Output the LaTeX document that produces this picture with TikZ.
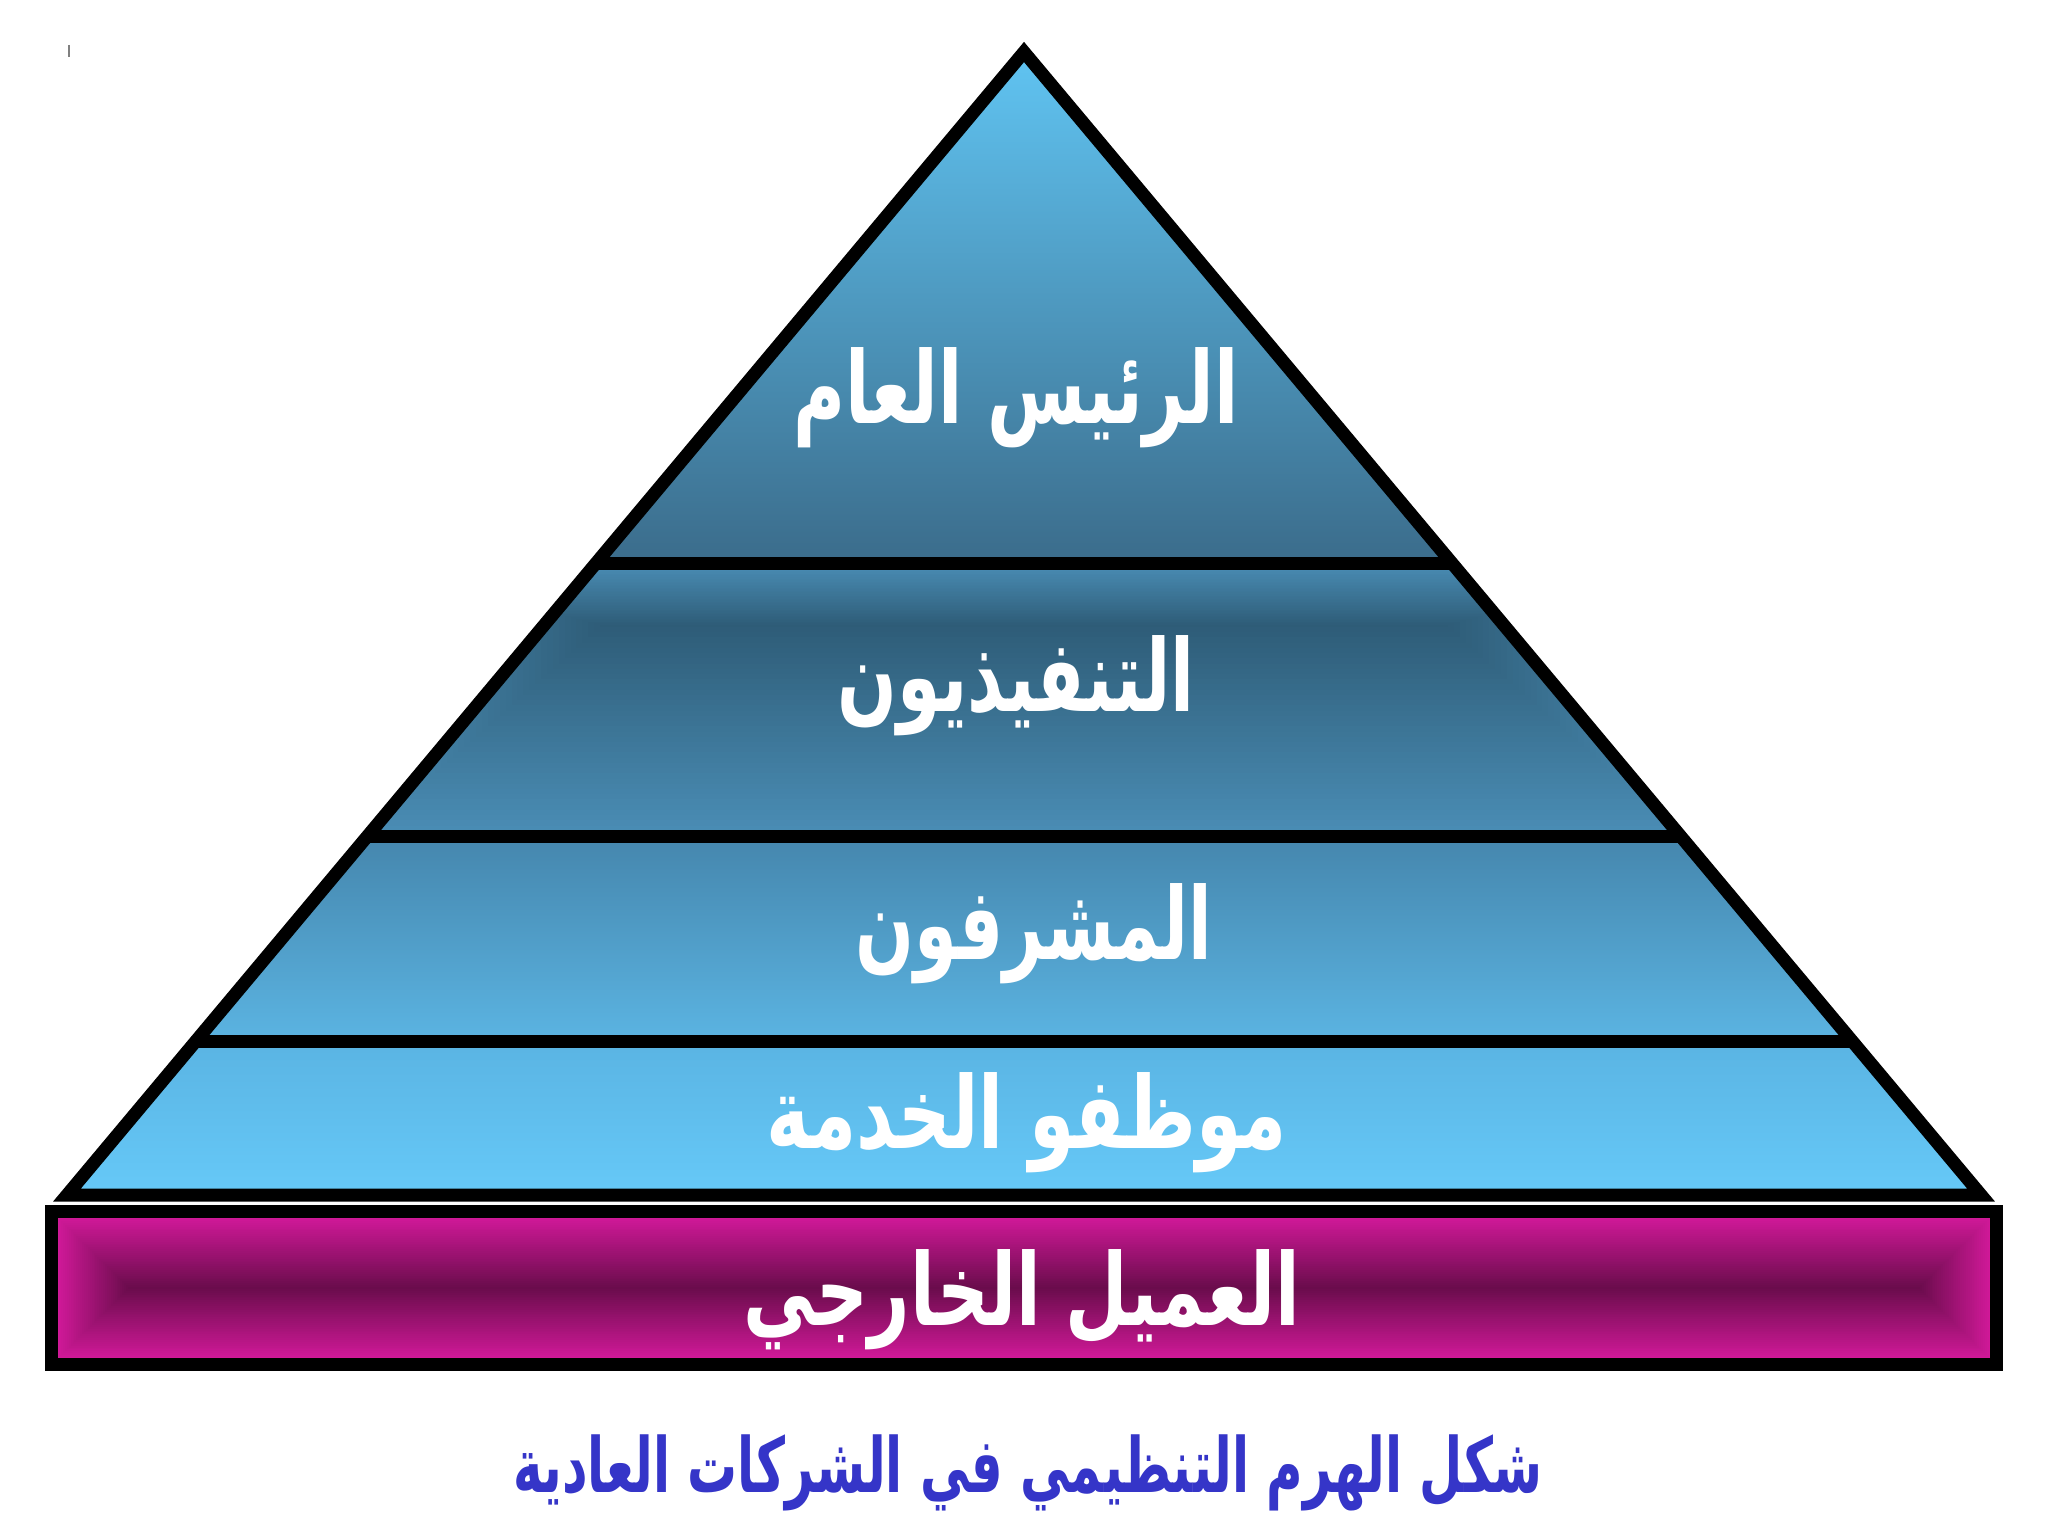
\documentclass[tikz,border=0pt]{standalone}
\usepackage{graphicx}
\usepackage{fontspec}
\newfontfamily\arabicfont[Script=Arabic]{DejaVu Sans}
\TeXXeTstate=1
\newcommand\hsq[2]{\scalebox{#1}[1]{#2}}
\definecolor{topA}{HTML}{60C4F2}
\definecolor{topB}{HTML}{4788AE}
\definecolor{topC}{HTML}{3B6C8B}
\definecolor{midOut}{HTML}{4A8DB5}
\definecolor{midIn}{HTML}{2E5C77}
\definecolor{thrA}{HTML}{4586AD}
\definecolor{thrB}{HTML}{5BB4E2}
\definecolor{fouA}{HTML}{5AB4E3}
\definecolor{fouB}{HTML}{66C9F8}
\definecolor{pinkOut}{HTML}{D81A9E}
\definecolor{pinkIn}{HTML}{6A0C4C}
\definecolor{capblue}{HTML}{3535C8}
\tikzset{
  outline/.style={line width=6.5pt, line join=miter, draw=black},
  lbl/.style={text=white, font=\fontsize{50}{54}\selectfont\arabicfont\bfseries, inner sep=0pt},
  caption/.style={text=capblue, font=\fontsize{38}{42}\selectfont\arabicfont\bfseries, inner sep=0pt}
}
\begin{document}
\begin{tikzpicture}[x=0.5pt,y=-0.5pt]
\useasboundingbox[fill=white] (0,0) rectangle (2048,1536);
% stray mark
\draw[gray, line width=0.8pt] (69,45) -- (69,57);
% layer 1: top triangle
\shade[top color=topA, middle color=topB, bottom color=topC] (1024,52) -- (1452,563) -- (596,563) -- cycle;
% layer 2: rectangle-style gradient
\begin{scope}
\clip (596,563) -- (1452,563) -- (1681,836) -- (367,836) -- cycle;
\foreach \i in {0,...,40} {
  \pgfmathsetmacro\tt{\i/40}
  \pgfmathsetmacro\pp{\i*2.5}
  \pgfmathsetmacro\xa{364+\tt*(600-364)}
  \pgfmathsetmacro\xb{1684-\tt*(1684-1448)}
  \pgfmathsetmacro\ya{563+\tt*(625-563)}
  \pgfmathsetmacro\yb{836-\tt*(836-627)}
  \fill[midIn!\pp!midOut] (\xa,\ya) rectangle (\xb,\yb);
}
\end{scope}
% layer 3
\shade[top color=thrA, bottom color=thrB] (367,836) -- (1681,836) -- (1852,1041) -- (196,1041) -- cycle;
% layer 4
\shade[top color=fouA, bottom color=fouB] (196,1041) -- (1852,1041) -- (1981,1195) -- (67,1195) -- cycle;
% pyramid outline and dividers
\draw[outline] (1024,52) -- (1981,1195) -- (67,1195) -- cycle;
\draw[outline] (596,563) -- (1452,563);
\draw[outline] (367,836) -- (1681,836);
\draw[outline] (196,1041) -- (1852,1041);
% pink base
\foreach \i in {0,...,40} {
  \pgfmathsetmacro\tt{\i/40}
  \pgfmathsetmacro\pp{\i*2.5}
  \pgfmathsetmacro\xa{51.5+\tt*(128-51.5)}
  \pgfmathsetmacro\xb{1996.5-\tt*(1996.5-1920)}
  \pgfmathsetmacro\ya{1211.5+\tt*(1287-1211.5)}
  \pgfmathsetmacro\yb{1364.5-\tt*(1364.5-1289)}
  \fill[pinkIn!\pp!pinkOut] (\xa,\ya) rectangle (\xb,\yb);
}
\draw[outline] (51.5,1211.5) rectangle (1996.5,1364.5);
% labels
\node[lbl] (t1) at (1016,398) {\hsq{0.71}{\beginR الرئيس العام\endR}};
\node[lbl] (t2) at (1016,686) {\hsq{0.70}{\beginR التنفيذيون\endR}};
\node[lbl] (t3) at (1034,934) {\hsq{0.69}{\beginR المشرفون\endR}};
\node[lbl] (t4) at (1027,1123) {\hsq{0.73}{\beginR موظفو الخدمة\endR}};
\node[lbl] (t5) at (1022,1300) {\hsq{0.72}{\beginR العميل الخارجي\endR}};
\node[caption] (cap) at (1028,1473) {\hsq{0.655}{\beginR شكل الهرم التنظيمي في الشركات العادية\endR}};
\end{tikzpicture}
\end{document}
